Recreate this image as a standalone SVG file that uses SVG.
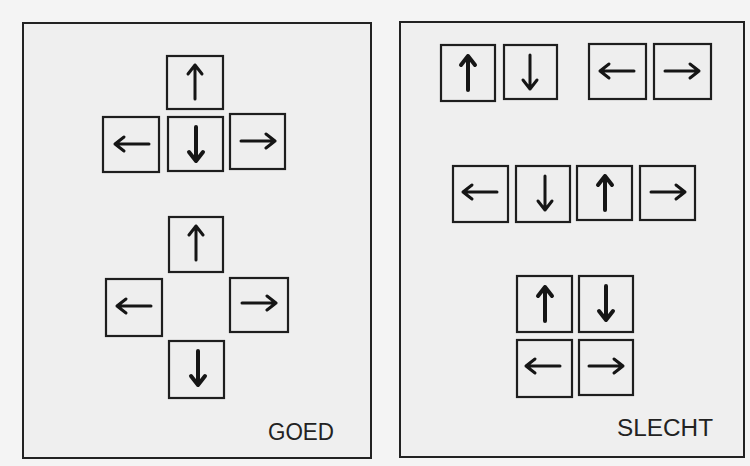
<svg xmlns="http://www.w3.org/2000/svg" xmlns:xlink="http://www.w3.org/1999/xlink" width="750" height="466" viewBox="0 0 750 466">
<style>
.bg{fill:#f4f4f4}
.panel{fill:#efefef;stroke:#222;stroke-width:2}
.key{fill:#eeeeee;stroke:#1e1e1e;stroke-width:2.2}
.arr{fill:none;stroke:#151515;stroke-width:3;stroke-linecap:round;stroke-linejoin:round}
.bold{stroke-width:4}
.lbl{font-family:"Liberation Sans",Arial,sans-serif;font-size:23px;fill:#222}
</style>
<defs>
<g id="ar"><path d="M-17,0 H17 M8,-7 L17,0 L8,7"/></g>
</defs>
<rect class="bg" x="0" y="0" width="750" height="466"/>
<g id="panel-goed">
<rect class="panel" x="23" y="23" width="348" height="435"/>
<text class="lbl" x="268" y="440" textLength="66" lengthAdjust="spacingAndGlyphs">GOED</text>
</g>
<g id="panel-slecht">
<rect class="panel" x="400" y="22" width="344" height="435"/>
<text class="lbl" x="617" y="436" textLength="96" lengthAdjust="spacingAndGlyphs">SLECHT</text>
</g>
<g id="goed-top-up"><rect class="key" x="167" y="56" width="56" height="53"/><use href="#ar" class="arr" transform="translate(195,82) rotate(-90)"/></g>
<g id="goed-top-left"><rect class="key" x="103" y="117" width="56" height="55"/><use href="#ar" class="arr" transform="translate(132,144) rotate(180)"/></g>
<g id="goed-top-down"><rect class="key" x="168" y="117" width="55" height="54"/><use href="#ar" class="arr bold" transform="translate(196,144) rotate(90)"/></g>
<g id="goed-top-right"><rect class="key" x="230" y="114" width="55" height="55"/><use href="#ar" class="arr" transform="translate(258,141)"/></g>
<g id="goed-bot-up"><rect class="key" x="169" y="217" width="54" height="55"/><use href="#ar" class="arr" transform="translate(196,243) rotate(-90)"/></g>
<g id="goed-bot-left"><rect class="key" x="106" y="279" width="56" height="57"/><use href="#ar" class="arr" transform="translate(134,306) rotate(180)"/></g>
<g id="goed-bot-right"><rect class="key" x="230" y="278" width="58" height="54"/><use href="#ar" class="arr" transform="translate(259,303)"/></g>
<g id="goed-bot-down"><rect class="key" x="169" y="341" width="55" height="57"/><use href="#ar" class="arr bold" transform="translate(198,368) rotate(90)"/></g>
<g id="slecht-r1-up"><rect class="key" x="441" y="45" width="54" height="56"/><use href="#ar" class="arr bold" transform="translate(468,73) rotate(-90)"/></g>
<g id="slecht-r1-down"><rect class="key" x="504" y="45" width="53" height="54"/><use href="#ar" class="arr" transform="translate(530,72) rotate(90)"/></g>
<g id="slecht-r1-left"><rect class="key" x="589" y="44" width="57" height="55"/><use href="#ar" class="arr" transform="translate(617,71) rotate(180)"/></g>
<g id="slecht-r1-right"><rect class="key" x="654" y="44" width="57" height="55"/><use href="#ar" class="arr" transform="translate(682,71)"/></g>
<g id="slecht-r2-left"><rect class="key" x="453" y="166" width="55" height="56"/><use href="#ar" class="arr" transform="translate(480,192) rotate(180)"/></g>
<g id="slecht-r2-down"><rect class="key" x="516" y="166" width="54" height="56"/><use href="#ar" class="arr" transform="translate(545,193) rotate(90)"/></g>
<g id="slecht-r2-up"><rect class="key" x="577" y="166" width="55" height="54"/><use href="#ar" class="arr bold" transform="translate(605,193) rotate(-90)"/></g>
<g id="slecht-r2-right"><rect class="key" x="640" y="166" width="55" height="54"/><use href="#ar" class="arr" transform="translate(668,192)"/></g>
<g id="slecht-g-up"><rect class="key" x="517" y="276" width="55" height="56"/><use href="#ar" class="arr bold" transform="translate(545,304) rotate(-90)"/></g>
<g id="slecht-g-down"><rect class="key" x="579" y="276" width="54" height="56"/><use href="#ar" class="arr bold" transform="translate(606,303) rotate(90)"/></g>
<g id="slecht-g-left"><rect class="key" x="517" y="340" width="55" height="57"/><use href="#ar" class="arr" transform="translate(543,366) rotate(180)"/></g>
<g id="slecht-g-right"><rect class="key" x="579" y="340" width="54" height="55"/><use href="#ar" class="arr" transform="translate(606,366)"/></g>
</svg>
